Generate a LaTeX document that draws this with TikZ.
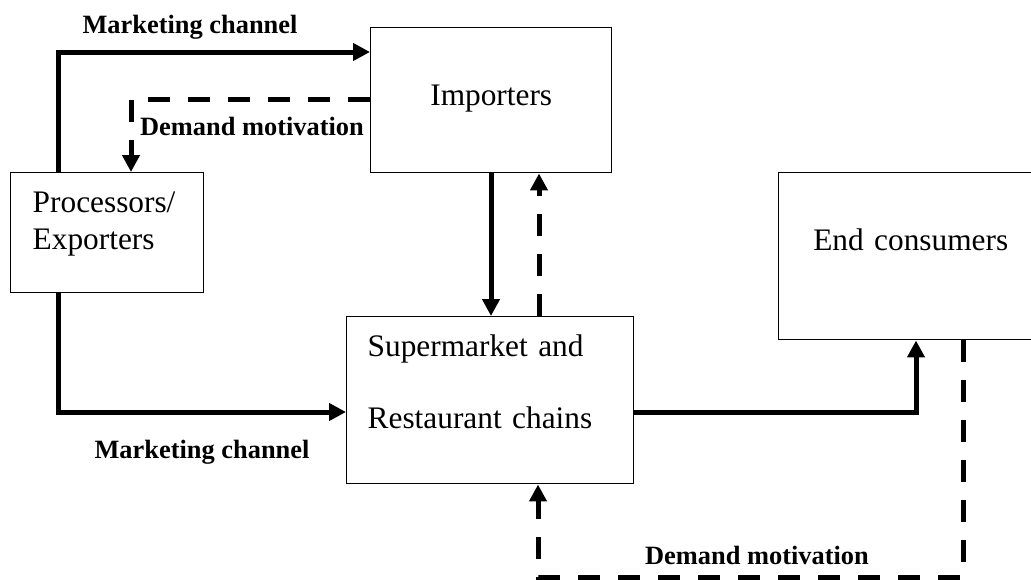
\documentclass[tikz,border=0pt]{standalone}
\usepackage{fontspec}
\setmainfont{Liberation Serif}
\usetikzlibrary{arrows.meta}
\begin{document}
\begin{tikzpicture}[x=0.75pt, y=-0.75pt,
  box/.style={draw, line width=1.1pt, anchor=north west, inner ysep=0pt, font=\fontsize{23.5}{27.75}\selectfont},
  flow/.style={line width=3.75pt, -{Triangle[length=12.75pt, width=12.75pt]}},
  demand/.style={flow, dash pattern=on 16.5pt off 13.5pt},
  lbl/.style={font=\fontsize{19.8}{23}\selectfont\bfseries, inner sep=0pt}]
\useasboundingbox (0,0) rectangle (1031,579);
\node[box, text width=180.75pt, inner xsep=0pt, align=center, text height=58.5pt, text depth=50.25pt] (imp) at (370,27) {Importers};
\node[box, text width=111.75pt, inner xsep=16.5pt, align=left, text height=30pt, text depth=60pt] (proc) at (10,172) {Processors/\\Exporters};
\node[box, text width=183.75pt, inner xsep=15.75pt, align=left, text height=30pt, text depth=95.25pt, font=\fontsize{23.5}{54}\selectfont] (sup) at (346,316) {Supermarket and\\Restaurant chains};
\node[box, text width=198pt, inner xsep=0pt, align=center, text height=58.5pt, text depth=66.75pt] (end) at (778,172) {End consumers};
\node[lbl] (mctop) at (190,27) {Marketing channel};
\node[lbl] (dmtop) at (252,126) {Demand motivation};
\node[lbl] (mcbot) at (202,452) {Marketing channel};
\node[lbl] (dmbot) at (757,555) {Demand motivation};
% bend points
\coordinate (mc1) at (58,52);
\coordinate (dm1) at (131,99);
\coordinate (down) at (491,0);
\coordinate (up) at (539,0);
\coordinate (mc2) at (58,412);
\coordinate (sale) at (916,412);
\coordinate (dm2) at (963,577);
\coordinate (dm3) at (538,577);
% marketing channels
\draw[flow] (proc.north -| mc1) |- (imp.west |- mc1);
\draw[flow] (imp.south -| down) -- (sup.north -| down);
\draw[flow] (proc.south -| mc2) |- (sup.west |- mc2);
\draw[flow] (sup.east |- sale) -| (end.south -| sale);
% demand motivation
\draw[demand] (imp.west |- dm1) -| (proc.north -| dm1);
\draw[demand] (sup.north -| up) -- (imp.south -| up);
\draw[demand] (end.south -| dm2) -- (dm2) -- (dm3) -- (sup.south -| dm3);
\end{tikzpicture}
\end{document}
